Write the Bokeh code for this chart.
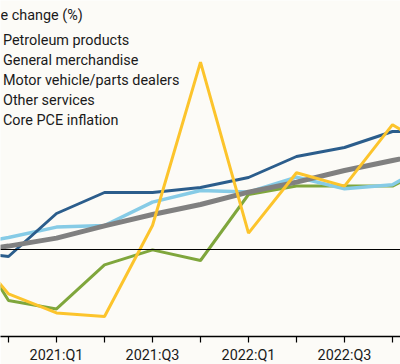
from bokeh.plotting import figure
from bokeh.models import FixedTicker, Span, Legend, LegendItem, Range1d, Label
from bokeh.embed import file_html
from bokeh.resources import INLINE

# ---- data ----
quarters = ["2020:Q3", "2020:Q4", "2021:Q1", "2021:Q2", "2021:Q3", "2021:Q4",
            "2022:Q1", "2022:Q2", "2022:Q3", "2022:Q4", "2023:Q1"]
petroleum = [0.6, -2.22, -3.17, -3.35, 1.2, 9.37, 0.82, 3.84, 3.17, 6.24, 4.75]
general = [1.3, -2.55, -2.97, -0.77, -0.02, -0.55, 2.75, 3.17, 3.17, 3.17, 4.37]
motor = [-0.05, -0.35, 1.8, 2.85, 2.85, 3.1, 3.6, 4.65, 5.1, 5.9, 5.9]
other = [0.2, 0.6, 1.12, 1.2, 2.37, 2.95, 2.87, 3.62, 3.04, 3.24, 4.55]
core = [-0.15, 0.17, 0.57, 1.18, 1.75, 2.25, 2.87, 3.37, 3.95, 4.45, 4.95]
title_text = "e change (%)"
names = ["Petroleum products", "General merchandise", "Motor vehicle/parts dealers",
         "Other services", "Core PCE inflation"]

x = list(range(-1, len(quarters) - 1))
tick_pos = [i for i in x if 0 <= i <= 8]
tick_labels = {i: (quarters[i + 1] if quarters[i + 1].endswith(("Q1", "Q3")) else "") for i in tick_pos}

BG = "#fcfbf7"
TXT = "#1a1a1a"
FONT = "Roboto"
FS = "14.4px"

p = figure(frame_width=400, frame_height=336, output_backend="svg", toolbar_location=None,
           x_range=Range1d(-8 / 48, 392 / 48), y_range=Range1d(-4.35, 12.45),
           y_axis_location=None, min_border_left=0, min_border_right=0,
           min_border_top=0, min_border_bottom=0,
           background_fill_color=BG, border_fill_color=BG, outline_line_color=None)
p.styles = {"position": "absolute", "left": "0px", "top": "0px"}
p.xgrid.visible = False
p.ygrid.visible = False

ax = p.xaxis[0]
ax.ticker = FixedTicker(ticks=tick_pos)
ax.major_label_overrides = tick_labels
ax.minor_tick_line_color = None
ax.major_tick_in = 0
ax.major_tick_out = 6
ax.major_tick_line_color = "black"
ax.axis_line_color = "black"
ax.axis_line_width = 1.5
ax.major_tick_line_width = 1.2
ax.major_label_standoff = 4
ax.major_label_text_font = FONT
ax.major_label_text_font_size = FS
ax.major_label_text_color = TXT

p.add_layout(Span(location=0, dimension="width", line_color="black", line_width=1.2))

r_gen = p.line(x, general, line_color="#7fa63c", line_width=3)
r_oth = p.line(x, other, line_color="#86cbe6", line_width=3.5)
r_mot = p.line(x, motor, line_color="#2b5d8c", line_width=3)
r_core = p.line(x, core, line_color="#808080", line_width=5)
r_pet = p.line(x, petroleum, line_color="#fcc42c", line_width=3)

p.add_layout(Label(x=0, y=321, x_units="screen", y_units="screen", text=title_text,
                   text_font=FONT, text_font_size=FS, text_color=TXT,
                   text_baseline="middle", text_align="left"))

legend = Legend(
    items=[LegendItem(label=names[0], renderers=[r_pet]),
           LegendItem(label=names[1], renderers=[r_gen]),
           LegendItem(label=names[2], renderers=[r_mot]),
           LegendItem(label=names[3], renderers=[r_oth]),
           LegendItem(label=names[4], renderers=[r_core])],
    location=(-23, 206),
    padding=0, margin=0, spacing=0, label_height=20, glyph_height=20, glyph_width=20,
    label_standoff=6, border_line_color=None, background_fill_alpha=0,
    label_text_font=FONT, label_text_font_size=FS, label_text_color=TXT)
p.add_layout(legend)

open("out.html", "w").write(file_html(p, INLINE))
